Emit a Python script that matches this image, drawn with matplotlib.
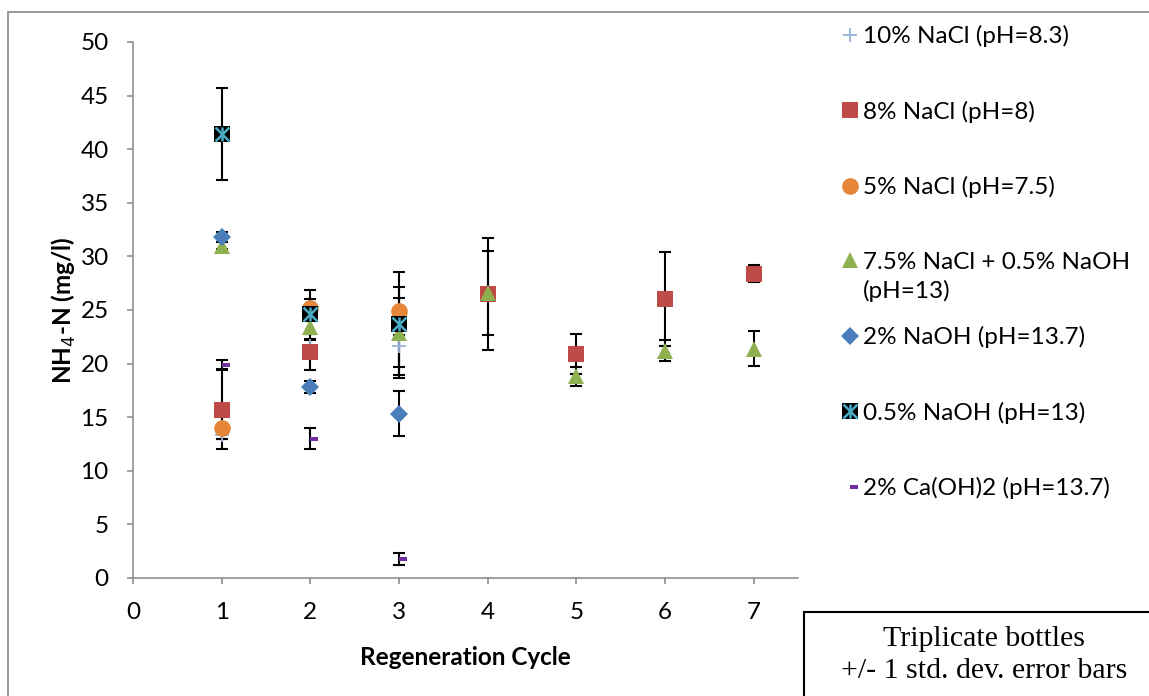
import numpy as np
import matplotlib.pyplot as plt
from matplotlib.path import Path
from matplotlib.patches import Rectangle
from matplotlib.legend_handler import HandlerTuple

plt.rcParams['font.family'] = ['Lato', 'DejaVu Sans']

# data (cycle, mean, std. dev.)
nacl10_x = [1, 2, 3]
nacl10_y = [13.3, 21.6, 21.6]
nacl10_sd = [0.3, 0.6, 2.9]

nacl8_x = [1, 2, 4, 5, 6, 7]
nacl8_y = [15.7, 21.1, 26.5, 20.9, 26.0, 28.4]
nacl8_sd = [3.7, 1.7, 5.2, 1.9, 4.4, 0.8]

nacl5_x = [1, 2, 3]
nacl5_y = [14.0, 25.2, 24.9]
nacl5_sd = [1.0, 0.8, 2.2]

mix_x = [1, 2, 3, 4, 5, 6, 7]
mix_y = [31.0, 23.4, 22.9, 26.6, 18.8, 21.2, 21.4]
mix_sd = [0.3, 0.6, 3.2, 3.9, 0.9, 1.0, 1.6]

naoh2_x = [1, 2, 3]
naoh2_y = [31.8, 17.8, 15.3]
naoh2_sd = [0.5, 0.55, 2.1]

naoh05_x = [1, 2, 3]
naoh05_y = [41.4, 24.6, 23.7]
naoh05_sd = [4.3, 2.3, 4.8]

caoh_x = [1, 2, 3]
caoh_y = [19.9, 13.0, 1.8]
caoh_sd = [0.4, 0.95, 0.55]

labels = ["10% NaCl (pH=8.3)", "8% NaCl (pH=8)", "5% NaCl (pH=7.5)",
          "7.5% NaCl + 0.5% NaOH", "2% NaOH (pH=13.7)",
          "0.5% NaOH (pH=13)", "2% Ca(OH)2 (pH=13.7)"]

# dash marker sitting to the right of the point, like Excel's "-" marker
dash = Path([(0, -0.28), (1, -0.28), (1, 0.28), (0, 0.28), (0, -0.28)],
            [Path.MOVETO, Path.LINETO, Path.LINETO, Path.LINETO, Path.CLOSEPOLY])

fig = plt.figure(figsize=(11.49, 6.96), dpi=100)
ax = fig.add_axes([133 / 1149, 1 - 578 / 696, 665 / 1149, 536 / 696])

series = [
    (nacl10_x, nacl10_y, nacl10_sd),
    (nacl8_x, nacl8_y, nacl8_sd),
    (nacl5_x, nacl5_y, nacl5_sd),
    (mix_x, mix_y, mix_sd),
    (naoh2_x, naoh2_y, naoh2_sd),
    (naoh05_x, naoh05_y, naoh05_sd),
    (caoh_x, caoh_y, caoh_sd),
]
for x, y, sd in series:
    ax.errorbar(x, y, yerr=sd, fmt='none', ecolor='black', elinewidth=1.5,
                capsize=4.3, capthick=1.5, zorder=2)

h1, = ax.plot(nacl10_x, nacl10_y, '+', color='#95B3D7', ms=10, mew=1.3, ls='none', zorder=3)
h2, = ax.plot(nacl8_x, nacl8_y, 's', color='#BE4B48', ms=11.5, mew=0, ls='none', zorder=4)
h3, = ax.plot(nacl5_x, nacl5_y, 'o', color='#E6863B', ms=12, mew=0, ls='none', zorder=5)
h4, = ax.plot(mix_x, mix_y, '^', color='#8FB04E', ms=12, mew=0, ls='none', zorder=6)
h5, = ax.plot(naoh2_x, naoh2_y, 'D', color='#4A7EBB', ms=8.8, mew=0, ls='none', zorder=7)
h6a, = ax.plot(naoh05_x, naoh05_y, 's', color='black', ms=11.5, mew=0, ls='none', zorder=8)
h6b, = ax.plot(naoh05_x, naoh05_y, 'x', color='#4BACC6', ms=10, mew=1.8, ls='none', zorder=9)
h6c, = ax.plot(naoh05_x, naoh05_y, '|', color='#4BACC6', ms=10, mew=1.8, ls='none', zorder=9)
h7, = ax.plot(caoh_x, caoh_y, marker=dash, color='#7030A0', ms=12, mew=0, ls='none', zorder=10)

ax.set_xlim(0, 7.5)
ax.set_ylim(0, 50)
ax.set_xticks(range(0, 8))
ax.set_yticks(range(0, 51, 5))
for s in ['top', 'right']:
    ax.spines[s].set_visible(False)
for s in ['left', 'bottom']:
    ax.spines[s].set_color('#868686')
    ax.spines[s].set_linewidth(1.1)
ax.tick_params(direction='out', length=4.5, width=1.1, color='#868686',
               labelsize=17.5, pad=13)

ax.set_xlabel("Regeneration Cycle", fontsize=17.5, fontweight='bold', labelpad=16)
ax.set_ylabel("NH$_4$-N (mg/l)", fontsize=17.5, fontweight='bold', labelpad=2)

leg = fig.legend([h1, h2, h3, h4, h5, (h6a, h6b, h6c), h7], labels,
                 handler_map={tuple: HandlerTuple(ndivide=1)},
                 loc='upper left', bbox_to_anchor=(839 / 1149, 1 - 25 / 696),
                 frameon=False, fontsize=17.5, borderpad=0, borderaxespad=0,
                 handlelength=0.9, handletextpad=0.1, labelspacing=2.2)
fig.text(863 / 1149, 1 - 291 / 696, "(pH=13)", fontsize=17.5, va='center', ha='left')

# outer chart frame
fig.patches.append(Rectangle((8 / 1149, -0.1), 1.2, 1.1 - 12 / 696,
                             transform=fig.transFigure, fill=False,
                             edgecolor='#898989', linewidth=1.2))

# note box
fig.patches.append(Rectangle((804 / 1149, -0.1), 0.4, 0.1 + 1 - 612 / 696,
                             transform=fig.transFigure, fill=False,
                             edgecolor='black', linewidth=1.5))
fig.text(984 / 1149, 1 - 655 / 696, "Triplicate bottles\n+/- 1 std. dev. error bars",
         fontsize=21.5, family='Liberation Serif', ha='center', va='center',
         linespacing=1.3)

fig.savefig("out.png", dpi=100)
